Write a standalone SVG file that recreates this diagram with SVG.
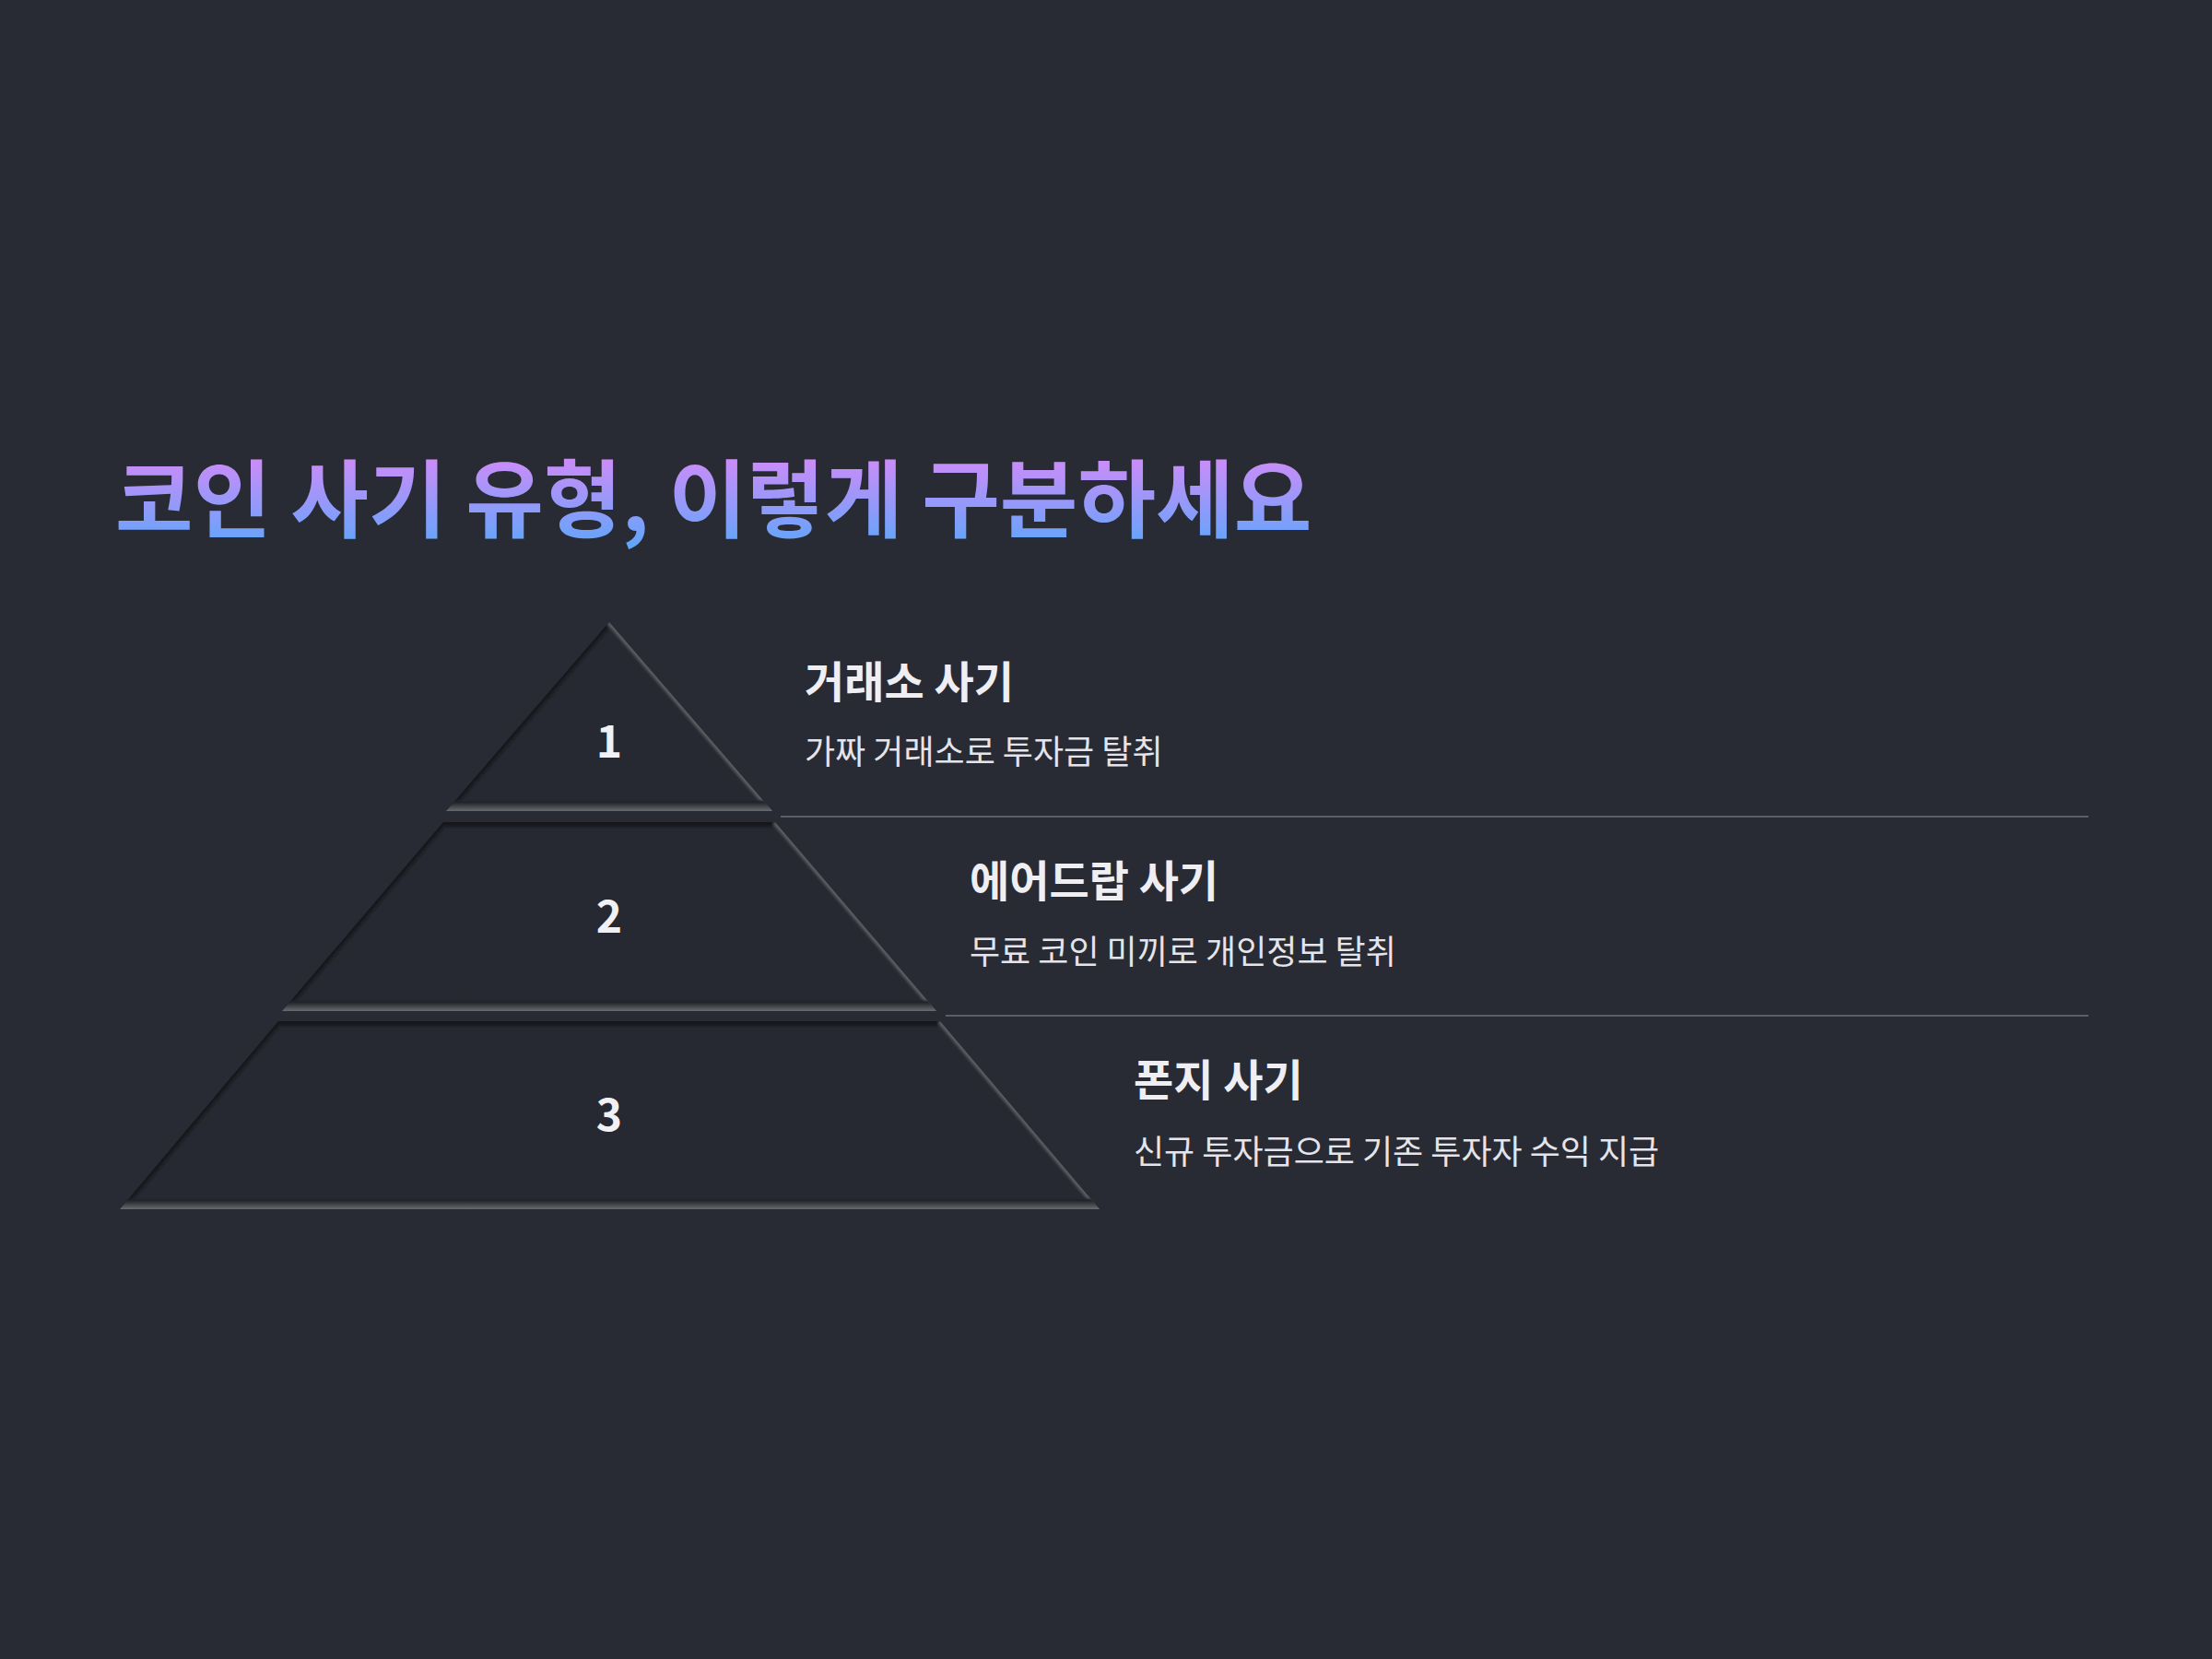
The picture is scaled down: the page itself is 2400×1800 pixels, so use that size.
<svg xmlns="http://www.w3.org/2000/svg" width="2400" height="1800" viewBox="0 0 2400 1800">
<style>
.num{font-family:"Noto Sans CJK KR","Noto Sans",sans-serif;font-weight:700;font-size:48px;fill:#f1f1f5;text-anchor:middle}
.head{font-family:"Noto Sans CJK KR","Noto Sans",sans-serif;font-weight:700;font-size:47px;fill:#eeeef3}
.desc{font-family:"Noto Sans CJK KR","Noto Sans",sans-serif;font-weight:400;font-size:36px;fill:#e4e4ea}
.sep{stroke:#5b5e66;stroke-width:2}
.tier{fill:#262931}
.dark{stroke:#15171b;fill:none}
.light{stroke:#5c5f64;fill:none}
</style>
<defs>
<linearGradient id="tg" x1="0" y1="498" x2="0" y2="594" gradientUnits="userSpaceOnUse">
<stop offset="0" stop-color="#cc8cf8"/>
<stop offset="1" stop-color="#5fa6fb"/>
</linearGradient>
<linearGradient id="bot" x1="0" y1="0" x2="0" y2="1">
<stop offset="0" stop-color="#262931" stop-opacity="0"/>
<stop offset="0.25" stop-color="#1f2227"/>
<stop offset="1" stop-color="#686b6f"/>
</linearGradient>
<filter id="soft" x="-5%" y="-5%" width="110%" height="110%"><feGaussianBlur stdDeviation="1.5"/></filter>
<clipPath id="c1"><polygon points="661,675 838,880 484,880"/></clipPath>
<clipPath id="c2"><polygon points="481,892 841,892 1016,1097 306,1097"/></clipPath>
<clipPath id="c3"><polygon points="302,1108 1020,1108 1193,1312 130,1312"/></clipPath>
</defs>
<rect width="2400" height="1800" fill="#282b33"/>
<text x="125" y="576" font-family="Noto Sans CJK KR, Noto Sans, sans-serif" font-weight="700" font-size="92" fill="url(#tg)">코인 사기 유형, 이렇게 구분하세요</text>
<g id="connectors">
<line class="sep" x1="847" y1="886" x2="2266" y2="886"/>
<line class="sep" x1="1026" y1="1102" x2="2266" y2="1102"/>
</g>
<g id="tier1">
<g clip-path="url(#c1)">
<polygon class="tier" points="661,675 838,880 484,880"/>
<g filter="url(#soft)">
<line class="dark" x1="661" y1="675" x2="484" y2="880" stroke-width="8"/>
<line class="light" x1="661" y1="675" x2="838" y2="880" stroke-width="6"/>
</g>
<rect x="470" y="867" width="380" height="13" fill="url(#bot)"/>
</g>
<text class="num" x="661" y="822">1</text>
<text class="head" x="873" y="757">거래소 사기</text>
<text class="desc" x="873" y="829">가짜 거래소로 투자금 탈취</text>
</g>
<g id="tier2">
<g clip-path="url(#c2)">
<polygon class="tier" points="481,892 841,892 1016,1097 306,1097"/>
<g filter="url(#soft)">
<line class="dark" x1="470" y1="892" x2="850" y2="892" stroke-width="10"/>
<line class="dark" x1="481" y1="892" x2="306" y2="1097" stroke-width="8"/>
<line class="light" x1="841" y1="892" x2="1016" y2="1097" stroke-width="6"/>
</g>
<rect x="290" y="1084" width="740" height="13" fill="url(#bot)"/>
</g>
<text class="num" x="661" y="1012">2</text>
<text class="head" x="1052" y="973">에어드랍 사기</text>
<text class="desc" x="1052" y="1046">무료 코인 미끼로 개인정보 탈취</text>
</g>
<g id="tier3">
<g clip-path="url(#c3)">
<polygon class="tier" points="302,1108 1020,1108 1193,1312 130,1312"/>
<g filter="url(#soft)">
<line class="dark" x1="290" y1="1108" x2="1030" y2="1108" stroke-width="10"/>
<line class="dark" x1="302" y1="1108" x2="130" y2="1312" stroke-width="8"/>
<line class="light" x1="1020" y1="1108" x2="1193" y2="1312" stroke-width="6"/>
</g>
<rect x="120" y="1299" width="1090" height="13" fill="url(#bot)"/>
</g>
<text class="num" x="661" y="1227">3</text>
<text class="head" x="1230" y="1189">폰지 사기</text>
<text class="desc" x="1230" y="1263">신규 투자금으로 기존 투자자 수익 지급</text>
</g>
</svg>
